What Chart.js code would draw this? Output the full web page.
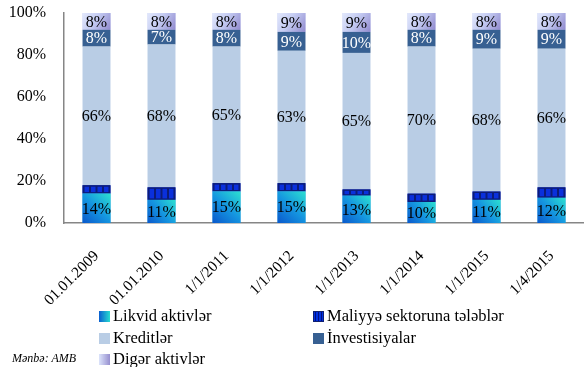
<!DOCTYPE html>
<html>
<head>
<meta charset="utf-8">
<script src="https://cdn.jsdelivr.net/npm/chart.js@4/dist/chart.umd.min.js"></script>
<style>
    body { margin: 0; background: #fff; }
    #wrap { position: relative; width: 584px; height: 367px; }
    #assetChart { position: absolute; left: 0; top: 0; }
    .legend-item {
        position: absolute;
        font-family: "Liberation Serif", serif;
        font-size: 16.5px;
        color: #000;
        white-space: nowrap;
        line-height: 18px;
    }
    .swatch {
        display: inline-block;
        width: 11px;
        height: 11px;
        margin-right: 3px;
        vertical-align: -1px;
    }
    #source {
        position: absolute;
        left: 12px;
        top: 351px;
        font-family: "Liberation Serif", serif;
        font-style: italic;
        font-size: 12px;
    }
</style>
</head>
<body>
<div id="wrap">
    <canvas id="assetChart" width="584" height="367"></canvas>
    <div class="legend-item" style="left:99px; top:307px;"><span class="swatch" style="background:linear-gradient(90deg,#0a5fd0,#28dcd0);"></span>Likvid aktivlər</div>
    <div class="legend-item" style="left:313px; top:307px;"><span class="swatch" style="background:repeating-linear-gradient(90deg,#0030e0 0 2px,#001080 2px 3px);outline:1px solid #102070;outline-offset:-1px;"></span>Maliyyə sektoruna tələblər</div>
    <div class="legend-item" style="left:99px; top:329px;"><span class="swatch" style="background:#b9cde5;"></span>Kreditlər</div>
    <div class="legend-item" style="left:313px; top:329px;"><span class="swatch" style="background:#376092;"></span>İnvestisiyalar</div>
    <div class="legend-item" style="left:99px; top:350px;"><span class="swatch" style="background:linear-gradient(90deg,#dce4fb,#968fcf);"></span>Digər aktivlər</div>
    <div id="source">Mənbə: AMB</div>
</div>

<script>
// Data (shares of total assets, %)
const dates = ['01.01.2009', '01.01.2010', '1/1/2011', '1/1/2012', '1/1/2013', '1/1/2014', '1/1/2015', '1/4/2015'];
const likvid = [14, 11, 15, 15, 13, 10, 11, 12];
const maliyye = [4, 6, 4, 4, 3, 4, 4, 5];
const kreditler = [66, 68, 65, 63, 65, 70, 68, 66];
const investisiya = [8, 7, 8, 9, 10, 8, 9, 9];
const diger = [8, 8, 8, 9, 9, 8, 8, 8];
const yTicks = [0, 20, 40, 60, 80, 100];

const SERIF = '"Liberation Serif", serif';

// Paints gradient / striped segments on top of the plain bars
const segmentFills = {
    id: 'segmentFills',
    afterDatasetDraw(chart, args) {
        const style = chart.data.datasets[args.index].paint;
        if (!style) return;
        const ctx = chart.ctx;
        ctx.save();
        args.meta.data.forEach(bar => {
            const p = bar.getProps(['x', 'y', 'base', 'width'], true);
            const left = p.x - p.width / 2;
            const top = Math.min(p.y, p.base);
            const h = Math.abs(p.base - p.y);
            if (style === 'likvid') {
                const g = ctx.createLinearGradient(left, top + h, left + p.width, top);
                g.addColorStop(0, '#0a58cc');
                g.addColorStop(0.5, '#1596e0');
                g.addColorStop(1, '#2ce0d0');
                ctx.fillStyle = g;
                ctx.fillRect(left, top, p.width, h);
            } else if (style === 'diger') {
                const g = ctx.createLinearGradient(left, top, left + p.width, top + h);
                g.addColorStop(0, '#e2e8fc');
                g.addColorStop(0.45, '#c4cbf2');
                g.addColorStop(1, '#918ace');
                ctx.fillStyle = g;
                ctx.fillRect(left, top, p.width, h);
            } else if (style === 'stripes') {
                ctx.fillStyle = '#0c1c78';
                ctx.fillRect(left, top, p.width, h);
                const inner = p.width - 2;
                const n = 4;
                const step = inner / n;
                for (let i = 0; i < n; i++) {
                    ctx.fillStyle = '#0a30dc';
                    ctx.fillRect(left + 1 + i * step + 1, top + 1.5, step - 2, h - 3);
                }
            }
        });
        ctx.restore();
    }
};

// Percent labels centred in the segments
const segmentLabels = {
    id: 'segmentLabels',
    afterDatasetsDraw(chart) {
        const ctx = chart.ctx;
        ctx.save();
        ctx.font = '16px ' + SERIF;
        ctx.textAlign = 'center';
        ctx.textBaseline = 'middle';
        chart.data.datasets.forEach((ds, di) => {
            if (!ds.labelColor) return;
            const meta = chart.getDatasetMeta(di);
            meta.data.forEach((bar, i) => {
                const p = bar.getProps(['x', 'y', 'base'], true);
                ctx.fillStyle = ds.labelColor;
                ctx.fillText(Math.round(ds.data[i]) + '%', p.x, (p.y + p.base) / 2 + 1);
            });
        });
        ctx.restore();
    }
};

document.addEventListener('DOMContentLoaded', function() {
    const ctx = document.getElementById('assetChart').getContext('2d');
    new Chart(ctx, {
        type: 'bar',
        data: {
            labels: dates,
            datasets: [
                { label: 'Likvid aktivlər', data: likvid, backgroundColor: '#1596e0', paint: 'likvid', labelColor: '#000' },
                { label: 'Maliyyə sektoruna tələblər', data: maliyye, backgroundColor: '#0a30dc', paint: 'stripes' },
                { label: 'Kreditlər', data: kreditler, backgroundColor: '#b9cde5', labelColor: '#000' },
                { label: 'İnvestisiyalar', data: investisiya, backgroundColor: '#376092', labelColor: '#fff' },
                { label: 'Digər aktivlər', data: diger, backgroundColor: '#c4cbf2', paint: 'diger', labelColor: '#000' }
            ]
        },
        options: {
            responsive: false,
            animation: false,
            barPercentage: 0.43,
            categoryPercentage: 1,
            layout: { padding: { left: 9, right: 0, top: 13, bottom: 0 } },
            plugins: {
                legend: { display: false },
                tooltip: { enabled: false }
            },
            scales: {
                x: {
                    stacked: true,
                    grid: { display: false, drawTicks: false },
                    border: { display: true, color: '#868686', width: 1.5 },
                    ticks: {
                        minRotation: 45,
                        maxRotation: 45,
                        padding: 24,
                        color: '#000',
                        font: { family: SERIF, size: 15.5 }
                    },
                    // fixed band under the axis, no side padding for rotated labels
                    afterFit: axis => {
                        axis.height = 144;
                        axis.paddingLeft = 0;
                        axis.paddingRight = 0;
                    }
                },
                y: {
                    stacked: true,
                    min: 0,
                    max: 100,
                    afterBuildTicks: axis => { axis.ticks = yTicks.map(v => ({ value: v })); },
                    grid: { display: false, drawTicks: false },
                    border: { display: true, color: '#868686', width: 1.5 },
                    ticks: {
                        padding: 18,
                        color: '#000',
                        font: { family: SERIF, size: 16 },
                        callback: v => v + '%'
                    },
                    afterFit: axis => {
                        axis.width = 55;
                        axis.paddingTop = 0;
                        axis.paddingBottom = 0;
                    }
                }
            }
        },
        plugins: [segmentFills, segmentLabels]
    });
});
</script>
</body>
</html>
